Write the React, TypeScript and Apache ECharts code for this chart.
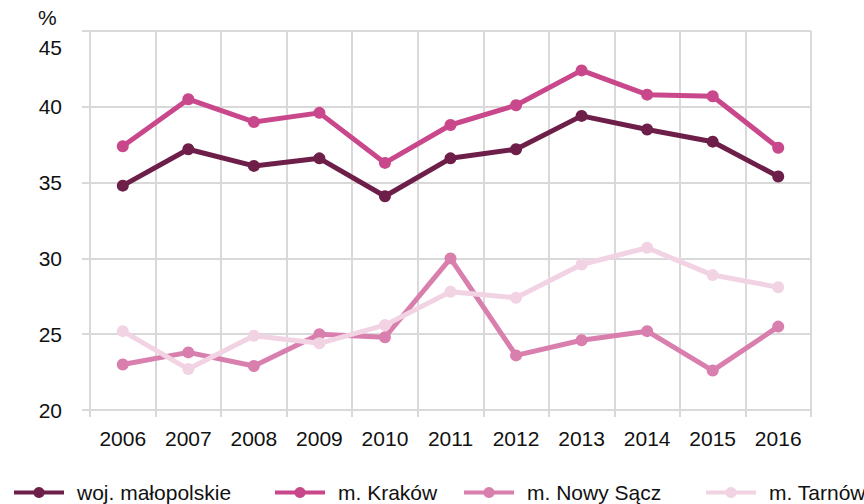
import React, { useEffect, useRef } from "react";
import * as echarts from "echarts";

const years = ["2006", "2007", "2008", "2009", "2010", "2011", "2012", "2013", "2014", "2015", "2016"];
const malopolskie = [34.8, 37.2, 36.1, 36.6, 34.1, 36.6, 37.2, 39.4, 38.5, 37.7, 35.4];
const krakow = [37.4, 40.5, 39.0, 39.6, 36.3, 38.8, 40.1, 42.4, 40.8, 40.7, 37.3];
const nowySacz = [23.0, 23.8, 22.9, 25.0, 24.8, 30.0, 23.6, 24.6, 25.2, 22.6, 25.5];
const tarnow = [25.2, 22.7, 24.9, 24.4, 25.6, 27.8, 27.4, 29.6, 30.7, 28.9, 28.1];
const seriesNames = ["woj. małopolskie", "m. Kraków", "m. Nowy Sącz", "m. Tarnów"];
const seriesColors = ["#6d1f49", "#c9488b", "#d97fae", "#f2d3e4"];
const yTicks = { min: 20, max: 45, interval: 5 };

const FONT = "'Liberation Sans', Arial, sans-serif";
const TEXT = "#111111";
const GRID = "#d9d9d9";

export default function App() {
  const ref = useRef<HTMLDivElement>(null);
  useEffect(() => {
    document.body.style.margin = "0";
    const chart = echarts.init(ref.current!, null, { renderer: "svg" });
    const data = [malopolskie, krakow, nowySacz, tarnow];
    const legendLefts = [12, 273, 462, 704];
    chart.setOption({
      animation: false,
      textStyle: { fontFamily: FONT },
      title: {
        text: "%",
        left: 38,
        top: 7,
        padding: 0,
        textStyle: { fontSize: 21, fontWeight: "normal", color: TEXT, fontFamily: FONT },
      },
      grid: { left: 90, right: 53, top: 31, bottom: 94, containLabel: false },
      legend: seriesNames.map((n, i) => ({
        data: [n],
        left: legendLefts[i],
        top: 482,
        itemWidth: 50,
        itemHeight: 14,
        padding: 0,
        lineStyle: { width: 4 },
        textStyle: { fontSize: 21, color: TEXT, fontFamily: FONT, padding: [0, 0, 0, 8] },
      })),
      xAxis: {
        type: "category",
        data: years,
        boundaryGap: true,
        axisLine: { show: true, lineStyle: { color: GRID, width: 2 } },
        axisTick: { show: true, length: 7, lineStyle: { color: GRID, width: 2 } },
        splitLine: { show: true, lineStyle: { color: GRID, width: 2 } },
        axisLabel: { fontSize: 21, color: TEXT, margin: 18, fontFamily: FONT },
      },
      yAxis: {
        type: "value",
        min: yTicks.min,
        max: yTicks.max,
        interval: yTicks.interval,
        axisLine: { show: true, lineStyle: { color: GRID, width: 2 } },
        axisTick: { show: true, length: 8, lineStyle: { color: GRID, width: 2 } },
        splitLine: { show: true, lineStyle: { color: GRID, width: 2 } },
        axisLabel: {
          fontSize: 21,
          color: TEXT,
          margin: 28,
          fontFamily: FONT,
          formatter: (v: number) => (v === yTicks.max ? "{t|" + v + "}" : String(v)),
          rich: {
            t: { fontSize: 21, color: TEXT, fontFamily: FONT, padding: [32, 0, 0, 0] },
          },
        },
      },
      series: seriesNames.map((n, i) => ({
        name: n,
        type: "line",
        data: data[i],
        symbol: "circle",
        symbolSize: 12,
        color: seriesColors[i],
        lineStyle: { width: 5, color: seriesColors[i] },
        itemStyle: { color: seriesColors[i] },
      })),
    });
    return () => chart.dispose();
  }, []);
  return <div ref={ref} style={{ position: "absolute", left: 0, top: 0, width: 864, height: 504 }} />;
}
